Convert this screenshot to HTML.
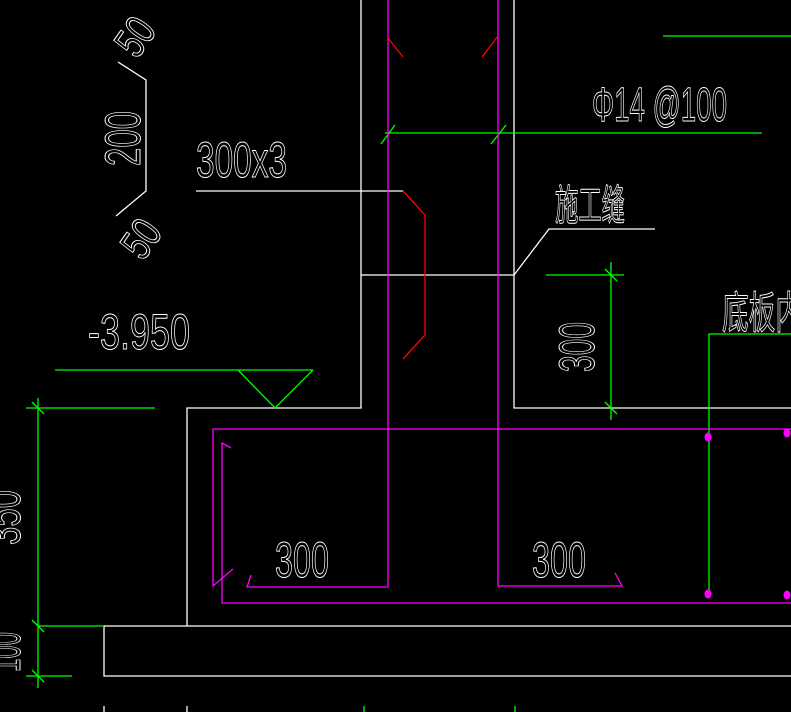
<!DOCTYPE html>
<html><head><meta charset="utf-8"><style>html,body{margin:0;padding:0;background:#000}svg{display:block}</style></head>
<body>
<svg width="791" height="712" viewBox="0 0 791 712" xmlns="http://www.w3.org/2000/svg">
<rect width="791" height="712" fill="#000"/>
<g stroke="#fff" stroke-width="1.3" fill="none">
<polyline points="361,0 361,408 187,408 187,626"/>
<line x1="196" y1="191" x2="403" y2="191"/>
<line x1="361" y1="275" x2="514" y2="275"/>
<polyline points="514,0 514,408 791,408"/>
<polyline points="514,275 549,229 655,229"/>
<polyline points="791,626 104,626 104,676 791,676"/>
<polyline points="118,62 146,80 146,191 116,216"/>
<line x1="104" y1="706" x2="104" y2="712"/><line x1="187" y1="706" x2="187" y2="712"/>
</g>
<g stroke="#00ff00" stroke-width="1.3" fill="none">
<line x1="55" y1="370" x2="313" y2="370"/>
<polyline points="238,370 275,408 313,370"/>
<line x1="26" y1="408" x2="155" y2="408"/>
<line x1="38" y1="398" x2="38" y2="688"/>
<line x1="38" y1="626" x2="104" y2="626"/>
<line x1="26" y1="676" x2="72" y2="676"/>
<line x1="32" y1="402" x2="44" y2="414"/><line x1="32" y1="620" x2="44" y2="632"/><line x1="32" y1="670" x2="44" y2="682"/>
<line x1="663" y1="36" x2="791" y2="36"/>
<line x1="385" y1="133" x2="762" y2="133"/>
<line x1="381" y1="144" x2="395" y2="125"/><line x1="491" y1="144" x2="506" y2="125"/>
<line x1="546" y1="275" x2="624" y2="275"/>
<line x1="611" y1="262" x2="611" y2="420"/>
<line x1="605" y1="269" x2="617" y2="281"/><line x1="605" y1="402" x2="617" y2="414"/>
<polyline points="709,595 709,334 791,334"/>
<line x1="364" y1="706" x2="364" y2="712"/><line x1="515" y1="706" x2="515" y2="712"/>
</g>
<g stroke="#ff00ff" stroke-width="1.3" fill="none">
<polyline points="388,0 388,587 247,587 251,575"/>
<polyline points="498,0 498,586 622,586 615,573"/>
<polyline points="233,569 213,586 213,429 791,429"/>
<polyline points="231,448 222,443 222,603 791,603"/>
</g>
<g fill="#ff00ff">
<ellipse cx="708" cy="437" rx="3.5" ry="4.5"/><ellipse cx="787" cy="433" rx="3.5" ry="4.5"/>
<ellipse cx="708" cy="594" rx="3.5" ry="4.5"/><ellipse cx="787" cy="595" rx="3.5" ry="4.5"/>
</g>
<g stroke="#ff0000" stroke-width="1.3" fill="none">
<line x1="388" y1="38" x2="403" y2="57"/><line x1="498" y1="36" x2="482" y2="57"/>
<polyline points="403,191 425,215 425,335 403,359"/>
</g>
<g fill="#000" stroke="#fff" stroke-width="1" font-family="Liberation Sans, Noto Sans CJK SC, sans-serif" font-weight="normal">
<text x="196" y="177" font-size="50" textLength="91" lengthAdjust="spacingAndGlyphs">300x3</text>
<text x="88" y="349" font-size="50" textLength="102" lengthAdjust="spacingAndGlyphs">-3.950</text>
<text x="592" y="121" font-size="48" textLength="135" lengthAdjust="spacingAndGlyphs">Φ14 @100</text>
<text x="555" y="220" font-size="42" textLength="70" lengthAdjust="spacingAndGlyphs">施工缝</text>
<text x="722" y="328" font-size="44" textLength="80" lengthAdjust="spacingAndGlyphs">底板内</text>
<text x="275" y="577" font-size="50" textLength="54" lengthAdjust="spacingAndGlyphs">300</text>
<text x="532" y="577" font-size="50" textLength="54" lengthAdjust="spacingAndGlyphs">300</text>
<text transform="translate(594,372) rotate(-90)" font-size="50" textLength="50" lengthAdjust="spacingAndGlyphs">300</text>
<text transform="translate(140,166) rotate(-90)" font-size="50" textLength="55" lengthAdjust="spacingAndGlyphs">200</text>
<text transform="translate(20,545) rotate(-90)" font-size="50" textLength="55" lengthAdjust="spacingAndGlyphs">350</text>
<text transform="translate(20,672) rotate(-90)" font-size="50" textLength="40" lengthAdjust="spacingAndGlyphs">100</text>
<text transform="translate(137,60) rotate(-55)" font-size="44" textLength="36" lengthAdjust="spacingAndGlyphs">50</text>
<text transform="translate(143,262) rotate(-55)" font-size="44" textLength="36" lengthAdjust="spacingAndGlyphs">50</text>
</g>
</svg>
</body></html>
